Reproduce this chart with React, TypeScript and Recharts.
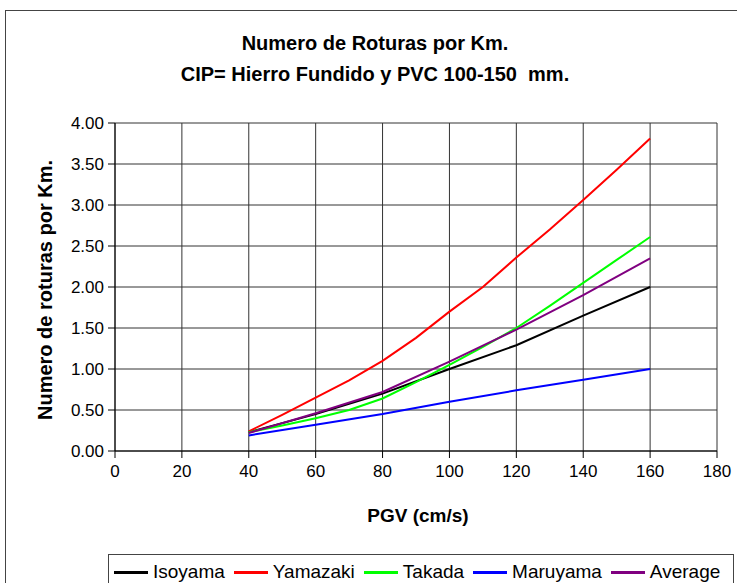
import React from "react";
import {
  LineChart,
  Line,
  XAxis,
  YAxis,
  CartesianGrid,
} from "recharts";

const PGV = [40, 50, 60, 70, 80, 90, 100, 110, 120, 130, 140, 150, 160];

const isoyama = [0.23, null, 0.45, null, 0.7, null, 1.0, null, 1.29, null, 1.65, null, 2.0];
const yamazaki = [0.24, 0.44, 0.65, 0.86, 1.1, 1.38, 1.7, 2.0, 2.36, 2.7, 3.06, 3.43, 3.81];
const takada = [0.23, 0.31, 0.4, 0.5, 0.64, 0.84, 1.05, 1.27, 1.5, 1.77, 2.05, 2.33, 2.61];
const maruyama = [0.19, null, 0.32, null, 0.45, null, 0.6, null, 0.74, null, 0.87, null, 1.0];
const average = [0.22, null, 0.46, null, 0.72, null, 1.09, null, 1.48, null, 1.9, null, 2.35];

const xTicks = [0, 20, 40, 60, 80, 100, 120, 140, 160, 180];
const yTicks = [0, 0.5, 1, 1.5, 2, 2.5, 3, 3.5, 4];

const SERIES = [
  { key: "isoyama", name: "Isoyama", color: "#000000", values: isoyama },
  { key: "yamazaki", name: "Yamazaki", color: "#FF0000", values: yamazaki },
  { key: "takada", name: "Takada", color: "#00FF00", values: takada },
  { key: "maruyama", name: "Maruyama", color: "#0000FF", values: maruyama },
  { key: "average", name: "Average", color: "#800080", values: average },
];

const data = PGV.map((x, i) => {
  const row: any = { pgv: x };
  SERIES.forEach((s) => {
    row[s.key] = s.values[i];
  });
  return row;
});

const FONT = "'Liberation Sans', Arial, sans-serif";

const YTitle = (props: any) => {
  const { viewBox } = props;
  const cx = 45;
  const cy = viewBox.y + viewBox.height / 2 + 3;
  return (
    <text
      x={cx}
      y={cy}
      transform={`rotate(-90 ${cx} ${cy})`}
      textAnchor="middle"
      dominantBaseline="central"
      fontFamily={FONT}
      fontWeight="bold"
      fontSize={20}
      fill="#000"
    >
      Numero de roturas por Km.
    </text>
  );
};

const XTitle = (props: any) => {
  const { viewBox } = props;
  const cx = viewBox.x + viewBox.width / 2 + 2;
  return (
    <text
      x={cx}
      y={515}
      textAnchor="middle"
      dominantBaseline="central"
      fontFamily={FONT}
      fontWeight="bold"
      fontSize={19}
      fill="#000"
    >
      PGV (cm/s)
    </text>
  );
};

const titleLine: React.CSSProperties = {
  position: "absolute",
  left: 0,
  width: 750,
  textAlign: "center",
  fontWeight: "bold",
  fontSize: 20,
  lineHeight: "24px",
  color: "#000",
  whiteSpace: "pre",
};

export default function App() {
  return (
    <div
      style={{
        position: "absolute",
        left: 0,
        top: 0,
        width: 737,
        height: 583,
        overflow: "hidden",
        background: "#fff",
        fontFamily: FONT,
      }}
    >
      <div
        style={{
          position: "absolute",
          left: 5,
          top: 10,
          width: 800,
          height: 700,
          border: "1px solid #444",
        }}
      />
      <div style={{ ...titleLine, top: 31 }}>Numero de Roturas por Km.</div>
      <div style={{ ...titleLine, top: 62 }}>CIP= Hierro Fundido y PVC 100-150  mm.</div>
      <div style={{ position: "absolute", left: 0, top: 0 }}>
        <LineChart
          width={737}
          height={583}
          data={data}
          margin={{ top: 123, right: 20, left: 0, bottom: 0 }}
        >
          <CartesianGrid stroke="#333" strokeWidth={1} horizontalValues={yTicks} verticalValues={xTicks} />
          <XAxis
            dataKey="pgv"
            type="number"
            domain={[0, 180]}
            ticks={xTicks}
            interval={0}
            height={132}
            tickSize={7}
            tickMargin={7}
            stroke="#000"
            tick={{ fill: "#000", fontSize: 17, fontFamily: FONT }}
            label={{ content: <XTitle /> }}
          />
          <YAxis
            type="number"
            domain={[0, 4]}
            ticks={yTicks}
            interval={0}
            width={115}
            tickSize={7}
            tickMargin={4}
            stroke="#000"
            tickFormatter={(v: number) => v.toFixed(2)}
            tick={{ fill: "#000", fontSize: 17, fontFamily: FONT }}
            label={{ content: <YTitle /> }}
          />
          {SERIES.map((s) => (
            <Line
              key={s.key}
              dataKey={s.key}
              name={s.name}
              stroke={s.color}
              strokeWidth={2}
              dot={false}
              type="linear"
              connectNulls
              isAnimationActive={false}
            />
          ))}
        </LineChart>
      </div>
      <div
        style={{
          position: "absolute",
          left: 108,
          top: 554,
          width: 626,
          height: 40,
          border: "1px solid #444",
          boxSizing: "border-box",
          display: "flex",
          alignItems: "flex-start",
          paddingTop: 6,
          paddingLeft: 5,
          fontSize: 19,
          lineHeight: "22px",
          color: "#000",
          whiteSpace: "nowrap",
        }}
      >
        {SERIES.map((s) => (
          <div key={s.key} style={{ display: "flex", alignItems: "center", marginRight: 9 }}>
            <div style={{ width: 34, height: 3, background: s.color, marginRight: 5 }} />
            <span>{s.name}</span>
          </div>
        ))}
      </div>
    </div>
  );
}
